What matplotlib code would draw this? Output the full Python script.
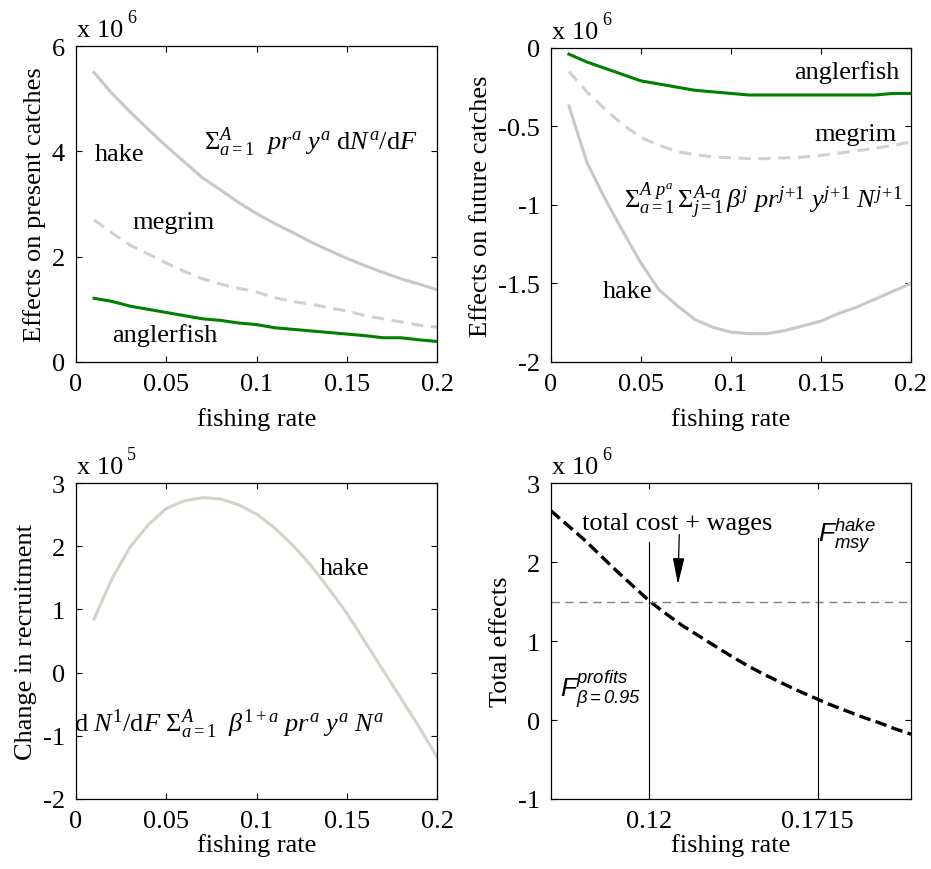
import matplotlib
matplotlib.use('Agg')
import matplotlib.pyplot as plt

plt.rcParams['font.family'] = ['Liberation Serif', 'DejaVu Serif']
plt.rcParams['mathtext.fontset'] = 'custom'
plt.rcParams['mathtext.rm'] = 'Liberation Serif'
plt.rcParams['mathtext.it'] = 'Liberation Serif:italic'
plt.rcParams['mathtext.sf'] = 'Liberation Sans:italic'
plt.rcParams['font.size'] = 19

# fishing rate grid
f_rate = [0.01, 0.02, 0.03, 0.04, 0.05, 0.06, 0.07, 0.08, 0.09, 0.10,
          0.11, 0.12, 0.13, 0.14, 0.15, 0.16, 0.17, 0.18, 0.19, 0.20]

# effects on present catches (x 1e6)
hake_present = [5.5, 5.1, 4.75, 4.42, 4.1, 3.8, 3.5, 3.27, 3.03, 2.82,
                2.63, 2.46, 2.28, 2.12, 1.97, 1.83, 1.7, 1.58, 1.48, 1.37]
megrim_present = [2.7, 2.45, 2.22, 2.05, 1.88, 1.72, 1.58, 1.48, 1.4, 1.33,
                  1.22, 1.15, 1.1, 1.03, 0.97, 0.88, 0.82, 0.76, 0.7, 0.66]
angler_present = [1.21, 1.15, 1.06, 1.0, 0.94, 0.88, 0.82, 0.79, 0.74, 0.71,
                  0.65, 0.62, 0.59, 0.56, 0.53, 0.5, 0.46, 0.46, 0.42, 0.39]

# effects on future catches (x 1e6)
hake_future = [-0.37, -0.73, -0.96, -1.17, -1.37, -1.54, -1.64, -1.73, -1.78, -1.81,
               -1.82, -1.82, -1.80, -1.77, -1.74, -1.69, -1.65, -1.60, -1.55, -1.50]
megrim_future = [-0.15, -0.28, -0.39, -0.49, -0.57, -0.62, -0.66, -0.68, -0.695, -0.70,
                 -0.705, -0.705, -0.70, -0.695, -0.685, -0.67, -0.655, -0.64, -0.62, -0.60]
angler_future = [-0.04, -0.09, -0.13, -0.17, -0.21, -0.23, -0.25, -0.27, -0.28, -0.29,
                 -0.30, -0.30, -0.30, -0.30, -0.30, -0.30, -0.30, -0.30, -0.29, -0.29]

# change in recruitment (x 1e5)
hake_recruit = [0.85, 1.49, 1.99, 2.34, 2.6, 2.72, 2.77, 2.75, 2.66, 2.51,
                2.29, 2.02, 1.7, 1.33, 0.94, 0.49, 0.04, -0.41, -0.86, -1.34]

# total effects (x 1e6)
f_total = [0.09, 0.095, 0.10, 0.105, 0.11, 0.115, 0.12, 0.125, 0.13, 0.135, 0.14, 0.145,
           0.15, 0.155, 0.16, 0.165, 0.17, 0.175, 0.18, 0.185, 0.19, 0.195, 0.20]
total_effects = [2.65, 2.47, 2.29, 2.09, 1.89, 1.70, 1.51, 1.35, 1.20, 1.07, 0.94, 0.81,
                 0.69, 0.58, 0.48, 0.38, 0.29, 0.20, 0.12, 0.04, -0.03, -0.11, -0.18]
cost_wages = 1.5
f_profits = 0.12
f_msy = 0.1715

HAKE = '#c8c8c8'
MEGRIM = '#d4d0c8'
ANGLER = '#008000'
RECRUIT = '#d6d2ca'
LW = 2.2


def style_axes(ax, exponent):
    ax.tick_params(direction='in', top=True, right=True, length=4, width=0.8, pad=8)
    for s in ax.spines.values():
        s.set_linewidth(0.9)
    # matlab style multiplier above the axes
    ax.annotate('x 10', xy=(0, 1), xycoords='axes fraction', xytext=(0.7, 7.2),
                textcoords='offset points', fontsize=19, ha='left', va='baseline')
    ax.annotate(str(exponent), xy=(0, 1), xycoords='axes fraction', xytext=(37, 17.5),
                textcoords='offset points', fontsize=13, ha='left', va='baseline')


fig = plt.figure(figsize=(9.31, 8.70), dpi=100)
ax1 = fig.add_axes([0.0816, 0.5828, 0.388, 0.363])
ax2 = fig.add_axes([0.5918, 0.5828, 0.3867, 0.361])
ax3 = fig.add_axes([0.0816, 0.0805, 0.388, 0.363])
ax4 = fig.add_axes([0.5918, 0.0805, 0.3867, 0.363])

# present catches
ax1.plot(f_rate, hake_present, color=HAKE, lw=LW)
ax1.plot(f_rate, megrim_present, color=MEGRIM, lw=LW, ls=(0, (4, 2.5)))
ax1.plot(f_rate, angler_present, color=ANGLER, lw=LW)
ax1.set_xlim(0, 0.2)
ax1.set_ylim(0, 6)
ax1.set_xticks([0, 0.05, 0.1, 0.15, 0.2])
ax1.set_xticklabels(['0', '0.05', '0.1', '0.15', '0.2'])
ax1.set_yticks([0, 2, 4, 6])
ax1.set_xlabel('fishing rate', labelpad=8.5)
ax1.set_ylabel('Effects on present catches', labelpad=4)
ax1.text(0.024, 3.95, 'hake', ha='center', va='center')
ax1.text(0.054, 2.66, 'megrim', ha='center', va='center')
ax1.text(0.049, 0.53, 'anglerfish', ha='center', va='center')
ax1.text(0.13, 4.2, r'$\Sigma^{\mathit{A}}_{\mathit{a=1}}\ \ pr^{a}\ y^{a}\ \mathrm{d}N^{a}/\mathrm{d}F$',
         ha='center', va='center')
style_axes(ax1, 6)

# future catches
ax2.plot(f_rate, hake_future, color=HAKE, lw=LW)
ax2.plot(f_rate, megrim_future, color=MEGRIM, lw=LW, ls=(0, (4, 2.5)))
ax2.plot(f_rate, angler_future, color=ANGLER, lw=LW)
ax2.set_xlim(0, 0.2)
ax2.set_ylim(-2, 0)
ax2.set_xticks([0, 0.05, 0.1, 0.15, 0.2])
ax2.set_xticklabels(['0', '0.05', '0.1', '0.15', '0.2'])
ax2.set_yticks([-2, -1.5, -1, -0.5, 0])
ax2.set_yticklabels(['-2', '-1.5', '-1', '-0.5', '0'])
ax2.set_xlabel('fishing rate', labelpad=8.5)
ax2.set_ylabel('Effects on future catches', labelpad=4)
ax2.text(0.1646, -0.153, 'anglerfish', ha='center', va='center')
ax2.text(0.169, -0.547, 'megrim', ha='center', va='center')
ax2.text(0.0426, -1.547, 'hake', ha='center', va='center')
ax2.text(0.118, -0.97,
         r'$\Sigma^{\mathit{A\ p^{a}}}_{\mathit{a=1}}\,\Sigma^{\mathit{A\text{-}a}}_{\mathit{j=1}}\,\beta^{j}\ pr^{j\!+\!1}\ y^{j\!+\!1}\ N^{j\!+\!1}$',
         ha='center', va='center')
style_axes(ax2, 6)

# recruitment
ax3.plot(f_rate, hake_recruit, color=RECRUIT, lw=LW)
ax3.set_xlim(0, 0.2)
ax3.set_ylim(-2, 3)
ax3.set_xticks([0, 0.05, 0.1, 0.15, 0.2])
ax3.set_xticklabels(['0', '0.05', '0.1', '0.15', '0.2'])
ax3.set_yticks([-2, -1, 0, 1, 2, 3])
ax3.set_yticklabels(['-2', '-1', '0', '1', '2', '3'])
ax3.set_xlabel('fishing rate', labelpad=1)
ax3.set_ylabel('Change in recruitment', labelpad=4)
ax3.text(0.1486, 1.66, 'hake', ha='center', va='center')
ax3.text(0.085, -0.8,
         r'$\mathrm{d}\ N^{\mathit{1}}/\mathrm{d}F\ \Sigma^{\mathit{A}}_{\mathit{a=1}}\ \ \beta^{\mathit{1+a}}\ pr^{a}\ y^{a}\ N^{a}$',
         ha='center', va='center')
style_axes(ax3, 5)

# total effects
ax4.plot(f_total, total_effects, color='black', lw=2.4, ls=(0, (3.5, 1.6)))
ax4.axhline(cost_wages, color='#808080', lw=1.0, ls=(0, (6, 4)))
ax4.plot([f_profits, f_profits], [-1, 2.25], color='black', lw=0.8)
ax4.plot([f_msy, f_msy], [-1, 2.3], color='black', lw=0.8)
ax4.set_xlim(0.09, 0.2)
ax4.set_ylim(-1, 3)
ax4.set_xticks([f_profits, f_msy])
ax4.set_xticklabels(['0.12', '0.1715'])
ax4.set_yticks([-1, 0, 1, 2, 3])
ax4.set_yticklabels(['-1', '0', '1', '2', '3'])
ax4.set_xlabel('fishing rate', labelpad=1)
ax4.set_ylabel('Total effects', labelpad=4)
ax4.text(0.1286, 2.5, 'total cost + wages', ha='center', va='center')
ax4.annotate('', xy=(0.1288, 1.72), xytext=(0.1292, 2.35),
             arrowprops=dict(arrowstyle='-|>,head_length=0.9,head_width=0.2', color='black',
                             lw=0.9, mutation_scale=18, shrinkA=0, shrinkB=0))
ax4.text(0.1715, 2.35, r'$\mathsf{F^{hake}_{msy}}$', ha='left', va='center', fontsize=19)
ax4.text(0.0928, 0.4, r'$\mathsf{F^{profits}_{\beta=0.95}}$', ha='left', va='center', fontsize=19)
style_axes(ax4, 6)

fig.savefig('out.png', dpi=100)
